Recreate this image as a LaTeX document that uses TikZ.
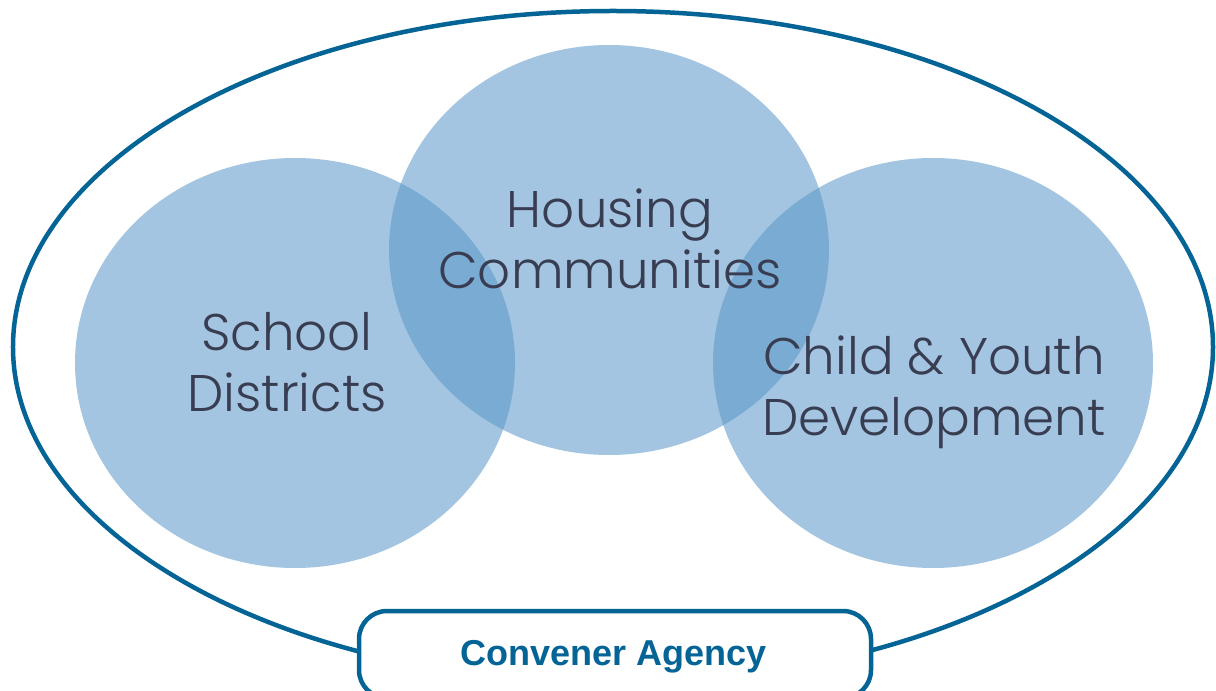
\documentclass[tikz,border=0pt]{standalone}
\usepackage{fontspec}
\usetikzlibrary{shapes.geometric}
\newfontfamily\labelfont{Poppins Light}
\newfontfamily\boxfont{Liberation Sans}
\definecolor{rimblue}{RGB}{5,100,150}
\definecolor{discblue}{RGB}{88,150,200}
\definecolor{labelgray}{RGB}{56,61,82}
\begin{document}
\begin{tikzpicture}[x=1bp,y=-1bp,
  disc/.style={ellipse, inner sep=0pt, minimum width=440bp, minimum height=410bp,
    fill=discblue, fill opacity=0.55, draw=none},
  biglabel/.style={align=center, text=labelgray, font=\labelfont\fontsize{51.5bp}{61bp}\selectfont, inner sep=0pt},
  rim/.style={draw=rimblue, line width=4.5bp}]
\useasboundingbox (0,0) rectangle (1216,691);
\begin{scope}
\clip (0,0) rectangle (1216,691);
\node[ellipse, rim, inner sep=0pt, minimum width=1200bp, minimum height=672bp] (outer) at (613,347) {};
\node[disc] (left) at (295,363) {};
\node[disc] (mid) at (609,250) {};
\node[disc] (right) at (933,363) {};
\node[biglabel] (housing) at (610,239) {Housing\\Communities};
\node[biglabel] (school) at (287,362) {School\\Districts};
\node[biglabel] (child) at (934,392) {Child \& Youth\\Development};
\draw[rim, fill=white, rounded corners=28bp] (359,611) rectangle (871,698);
\node[text=rimblue, font=\boxfont\bfseries\fontsize{36bp}{42bp}\selectfont, inner sep=0pt, anchor=base] (convener) at (614,665) {Convener Agency};
\end{scope}
\end{tikzpicture}
\end{document}
